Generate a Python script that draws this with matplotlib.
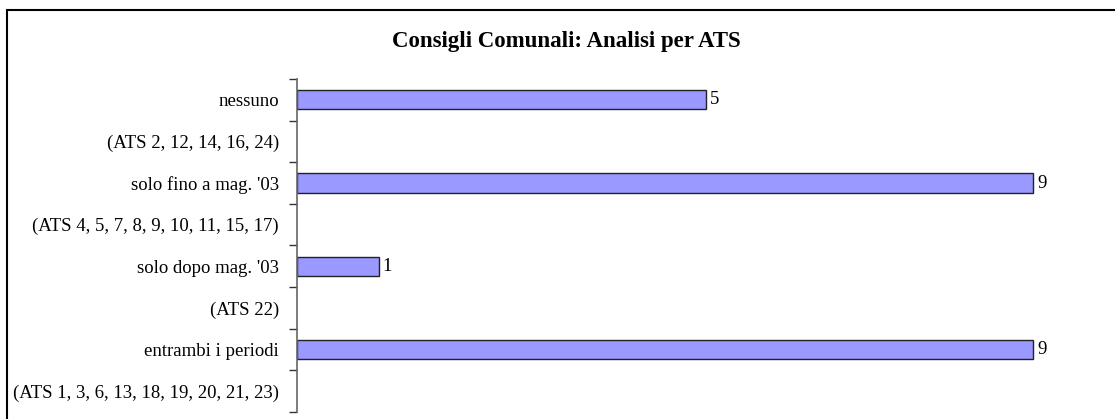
"""
Consigli Comunali: analisi per ATS - horizontal bar chart.
"""
import numpy as np
import matplotlib
matplotlib.use('Agg')
import matplotlib.pyplot as plt
from matplotlib.patches import Rectangle

# data
categories = ['nessuno', '(ATS 2, 12, 14, 16, 24)',
              "solo fino a mag. '03", '(ATS 4, 5, 7, 8, 9, 10, 11, 15, 17)',
              "solo dopo mag. '03", '(ATS 22)',
              'entrambi i periodi', '(ATS 1, 3, 6, 13, 18, 19, 20, 21, 23)']
values = [5, None, 9, None, 1, None, 9, None]
title = 'Consigli Comunali: Analisi per ATS'

plt.rcParams['font.family'] = ['Liberation Serif', 'DejaVu Serif']

W, H = 1115, 419
fig = plt.figure(figsize=(W / 100, H / 100), dpi=100)

# outer frame (cropped on right and bottom in the original)
fig.patches.append(Rectangle((7 / W, -0.1), 1.2, 1 - 10 / H + 0.1,
                             transform=fig.transFigure, fill=False,
                             edgecolor='black', linewidth=1.5))

# axes placement in pixels
left, right, top, bottom = 297, 1100, 79, 412
ax = fig.add_axes([left / W, 1 - bottom / H, (right - left) / W, (bottom - top) / H])

n = len(categories)
y = np.arange(n)
for i, v in enumerate(values):
    if v is None:
        continue
    ax.barh(y[i], v, height=0.46, color='#9999FF', edgecolor='#222222', linewidth=1)
    ax.text(v + 0.05, y[i], str(v), va='center', ha='left', fontsize=13.5)

ax.set_xlim(0, (right - left) / 81.8)
ax.set_ylim(n - 0.5, -0.5)

# category labels between ticks, ticks at boundaries
ax.set_yticks(np.arange(-0.5, n, 1.0))
ax.set_yticklabels([])
ax.set_yticks(y, minor=True)
ax.set_yticklabels(categories, minor=True, fontsize=13.5)
ax.tick_params(axis='y', which='major', direction='out', length=6, width=1, color='#333333')
ax.tick_params(axis='y', which='minor', length=0, pad=13)
ax.set_xticks([])

for s in ['top', 'right', 'bottom']:
    ax.spines[s].set_visible(False)
ax.spines['left'].set_color('#666666')
ax.spines['left'].set_linewidth(1.2)

fig.text(566 / W, 1 - 42 / H, title, ha='center', va='center',
         fontsize=16.5, fontweight='bold')

fig.savefig('out.png', dpi=100)
